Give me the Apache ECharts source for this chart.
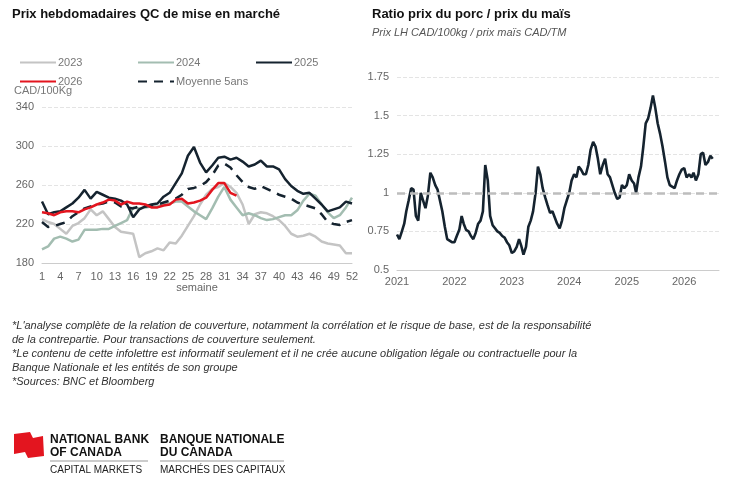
<!DOCTYPE html>
<html>
<head>
<meta charset="utf-8">
<script src="https://cdn.jsdelivr.net/npm/echarts@6/dist/echarts.min.js"></script>
<style>body{margin:0;background:#fff}</style>
</head>
<body>
<div id="main" style="width:733px;height:480px;"></div>
<script type="text/javascript">
// semaines 1..52
var weeks = [];
for (var i = 1; i <= 52; i++) weeks.push(String(i));
var y2023 = [225,222,220,215,210,218,221,226,235,229,233,225,217,212,211,210,186,190,192,195,193,201,200,208,218,228,240,250,256,258,262,258,252,240,220,230,232,231,228,224,218,210,207,208,210,207,202,200,199,198,190,190];
var y2024 = [194,197,205,207,205,202,204,214,214,214,215,215,218,221,224,237,236,237,238,238,240,241,243,243,238,233,229,225,236,248,258,245,237,229,231,229,226,224,225,227,229,229,234,244,251,249,240,232,226,229,237,247];
var y2025 = [243,230,232,233,237,241,247,255,246,253,250,247,246,244,240,227,235,238,240,241,248,252,262,272,290,299,283,273,280,288,289,286,288,284,279,281,285,279,279,276,266,259,254,251,252,246,240,233,235,237,243,241];
var y2026 = [232,231,229,232,233,233,232,235,237,240,242,245,244,240,243,241,241,240,237,237,239,240,245,246,241,242,244,247,255,262,262,252,249];
var avg5 = [222,217,218,220,222,228,232,236,238,240,241,243,242,238,237,236,238,238,239,240,242,244,246,250,256,257,259,263,270,280,282,278,270,263,258,256,259,256,253,250,248,246,242,240,238,236,230,222,220,219,222,224];

// ratio porc / maïs, deux points par mois depuis janvier 2021
var ratio = [
 0.73,0.70,0.75,0.80,0.88,0.95,1.03,1.02,0.85,0.82,1.00,0.95,0.90,0.98,1.13,1.10,1.05,1.02,0.95,0.88,0.78,0.70,0.69,0.68,
 0.68,0.72,0.76,0.85,0.80,0.76,0.75,0.72,0.70,0.74,0.80,0.82,0.88,1.18,1.08,0.85,0.79,0.77,0.75,0.74,0.72,0.71,0.68,0.66,
 0.61,0.62,0.65,0.70,0.66,0.60,0.65,0.78,0.82,0.88,1.00,1.17,1.12,1.03,0.97,0.92,0.87,0.88,0.84,0.80,0.77,0.82,0.90,0.95,
 1.00,1.08,1.12,1.10,1.17,1.15,1.12,1.12,1.18,1.28,1.33,1.30,1.22,1.12,1.18,1.22,1.12,1.10,1.05,1.00,0.96,0.97,1.05,1.03,
 1.05,1.12,1.08,1.06,1.00,1.10,1.17,1.30,1.45,1.48,1.55,1.63,1.55,1.45,1.38,1.30,1.20,1.10,1.05,1.04,1.03,1.08,1.12,1.15,
 1.16,1.10,1.12,1.10,1.13,1.08,1.12,1.25,1.26,1.18,1.20,1.24,1.22
];
var ratioData = ratio.map(function (v, k) {
    var m = Math.floor(k / 2), d = (k % 2) ? 16 : 1;
    return [Date.UTC(2021, m, d), v];
});

var notes = [
 "*L'analyse complète de la relation de couverture, notamment la corrélation et le risque de base, est de la responsabilité",
 "de la contrepartie. Pour transactions de couverture seulement.",
 "*Le contenu de cette infolettre est informatif seulement et il ne crée aucune obligation légale ou contractuelle pour la",
 "Banque Nationale et les entités de son groupe",
 "*Sources: BNC et Bloomberg"
];

var font = 'Liberation Sans, Arial, sans-serif';
var axisTxt = {color: '#666', fontSize: 11, fontFamily: font};
var split = {lineStyle: {color: '#e4e4e4', type: 'dashed'}};

function leg(name, left, top) {
    return {data: [name], left: left, top: top, itemWidth: 36, itemHeight: 10, itemGap: 0,
        itemStyle: {opacity: 0},
        textStyle: {color: '#777', fontSize: 11, fontFamily: font, padding: [0, 0, 0, -3]}};
}

var graphics = [
    {type: 'text', left: 12, top: 8, style: {text: 'Prix hebdomadaires QC de mise en marché', font: 'bold 13px ' + font, fill: '#111'}},
    {type: 'text', left: 372, top: 8, style: {text: 'Ratio prix du porc / prix du maïs', font: 'bold 13px ' + font, fill: '#111'}},
    {type: 'text', left: 372, top: 27, style: {text: 'Prix LH CAD/100kg / prix maïs CAD/TM', font: 'italic 11px ' + font, fill: '#555'}},
    {type: 'text', left: 14, top: 85, style: {text: 'CAD/100Kg', font: '11px ' + font, fill: '#777'}},
    {type: 'polygon', shape: {points: [[14,434],[30,432],[33,438],[43,436],[44,456],[28,458],[25,452],[14,454]]}, style: {fill: '#e3151f'}},
    {type: 'text', left: 50, top: 433, style: {text: 'NATIONAL BANK\nOF CANADA', font: 'bold 12px ' + font, fill: '#111', lineHeight: 13}},
    {type: 'text', left: 160, top: 433, style: {text: 'BANQUE NATIONALE\nDU CANADA', font: 'bold 12px ' + font, fill: '#111', lineHeight: 13}},
    {type: 'line', shape: {x1: 50, y1: 461, x2: 148, y2: 461}, style: {stroke: '#999', lineWidth: 1}},
    {type: 'line', shape: {x1: 160, y1: 461, x2: 284, y2: 461}, style: {stroke: '#999', lineWidth: 1}},
    {type: 'text', left: 50, top: 465, style: {text: 'CAPITAL MARKETS', font: '10px ' + font, fill: '#222'}},
    {type: 'text', left: 160, top: 465, style: {text: 'MARCHÉS DES CAPITAUX', font: '10px ' + font, fill: '#222'}}
];
notes.forEach(function (t, k) {
    graphics.push({type: 'text', left: 12, top: 320 + k * 14.2, style: {text: t, font: 'italic 11px ' + font, fill: '#333'}});
});

var myChart = echarts.init(document.getElementById('main'));
var option = {
    animation: false,
    textStyle: {fontFamily: font},
    graphic: graphics,
    legend: [
        leg('2023', 14, 52), leg('2024', 132, 52), leg('2025', 250, 52),
        leg('2026', 14, 71), leg('Moyenne 5ans', 132, 71)
    ],
    grid: [
        {left: 42, right: 381, top: 107, bottom: 217},
        {left: 397, right: 14, top: 77, bottom: 210}
    ],
    xAxis: [
        {gridIndex: 0, type: 'category', data: weeks, boundaryGap: false,
         name: 'semaine', nameLocation: 'middle', nameGap: 19, nameTextStyle: axisTxt,
         axisLine: {lineStyle: {color: '#ccc'}}, axisTick: {show: false},
         axisLabel: Object.assign({interval: 2, margin: 8}, axisTxt)},
        {gridIndex: 1, type: 'time', min: Date.UTC(2021, 0, 1), max: Date.UTC(2026, 7, 10),
         axisLine: {lineStyle: {color: '#ccc'}}, axisTick: {show: false}, splitLine: {show: false},
         interval: 365.25 * 86400000, minInterval: 365 * 86400000,
         axisLabel: Object.assign({formatter: '{yyyy}', margin: 6}, axisTxt)}
    ],
    yAxis: [
        {gridIndex: 0, min: 180, max: 340, interval: 40, axisLine: {show: false},
         axisLabel: axisTxt, splitLine: split},
        {gridIndex: 1, min: 0.5, max: 1.75, interval: 0.25, axisLine: {show: false},
         axisLabel: axisTxt, splitLine: split}
    ],
    series: [
        {name: '2023', type: 'line', data: y2023, symbol: 'none', lineStyle: {color: '#c4c4c4', width: 2.5}, itemStyle: {color: '#c4c4c4'}},
        {name: '2024', type: 'line', data: y2024, symbol: 'none', lineStyle: {color: '#a3bdb1', width: 2.5}, itemStyle: {color: '#a3bdb1'}},
        {name: 'Moyenne 5ans', type: 'line', data: avg5, symbol: 'none', lineStyle: {color: '#15232f', width: 2.5, type: [9, 7]}, itemStyle: {color: '#15232f'}},
        {name: '2025', type: 'line', data: y2025, symbol: 'none', lineStyle: {color: '#15232f', width: 2.5}, itemStyle: {color: '#15232f'}},
        {name: '2026', type: 'line', data: y2026, symbol: 'none', lineStyle: {color: '#e3151f', width: 2.5}, itemStyle: {color: '#e3151f'}},
        {type: 'line', xAxisIndex: 1, yAxisIndex: 1, data: ratioData, symbol: 'none',
         lineStyle: {color: '#15232f', width: 2.6},
         markLine: {silent: true, symbol: 'none', label: {show: false},
                    lineStyle: {color: '#bdbdbd', width: 2.5, type: [8, 5]}, data: [{yAxis: 1}]}}
    ]
};
myChart.setOption(option);
</script>
</body>
</html>
